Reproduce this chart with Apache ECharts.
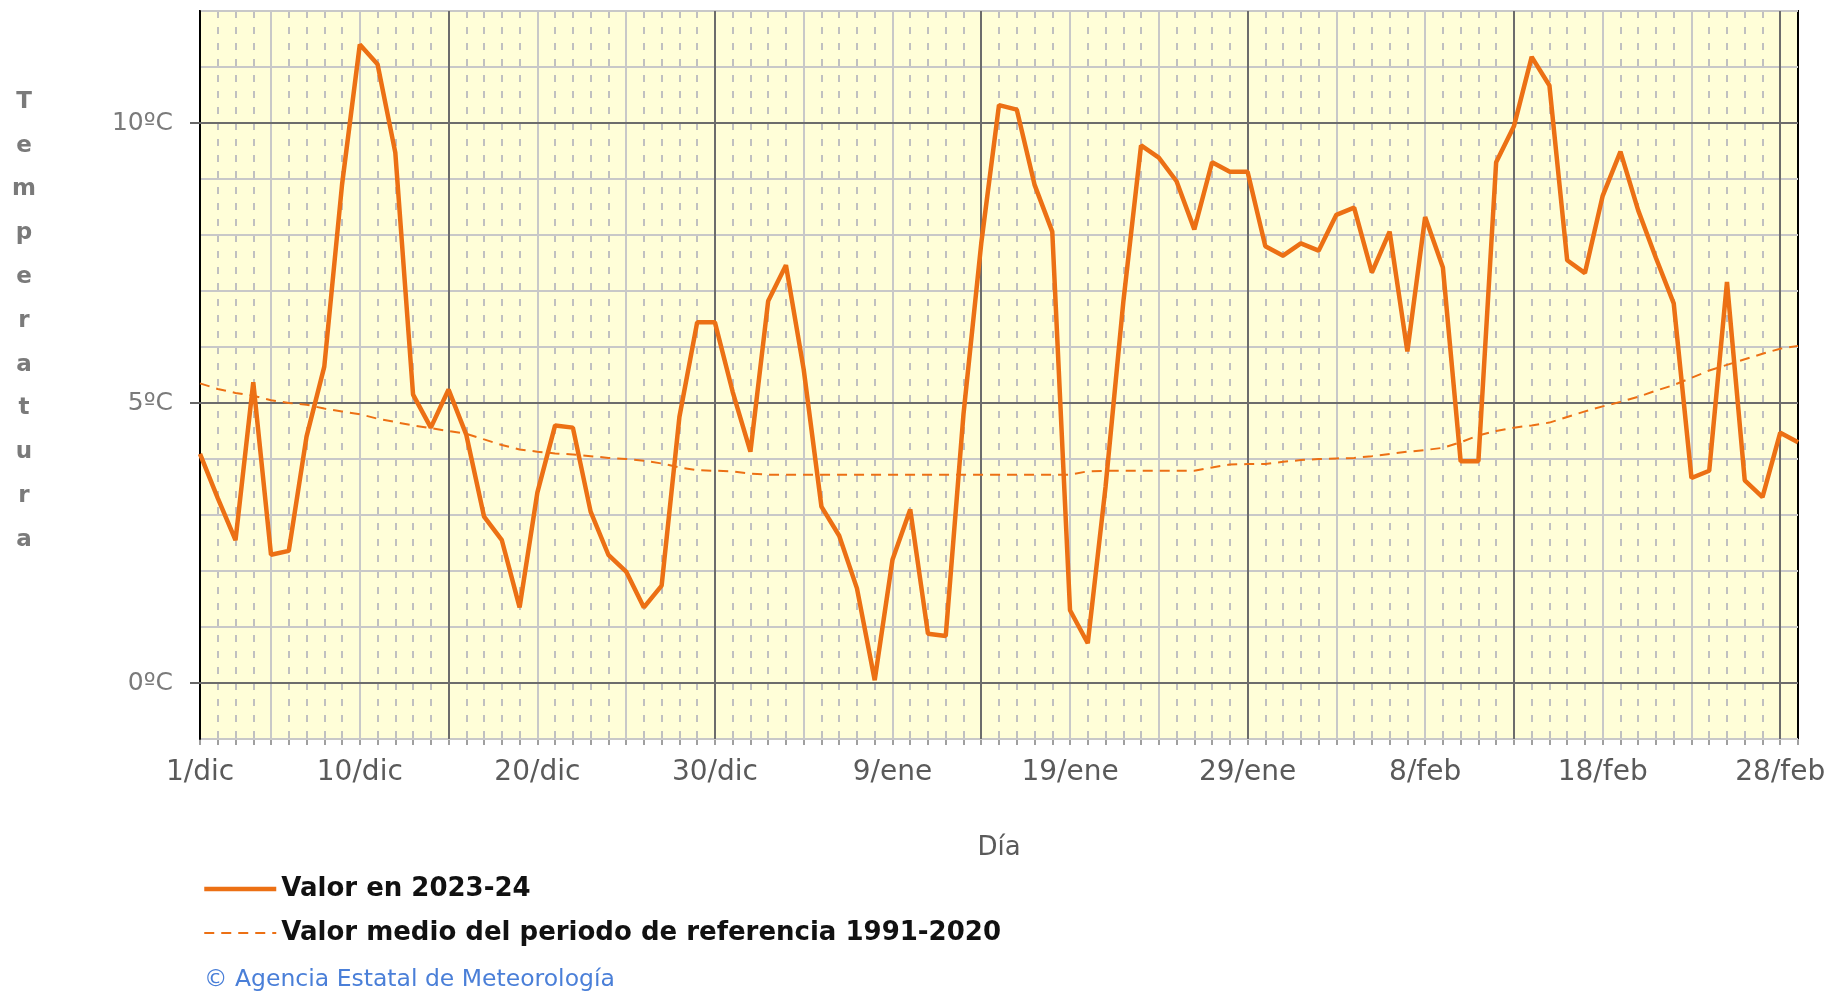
<!DOCTYPE html>
<html><head><meta charset="utf-8">
<script src="https://cdn.jsdelivr.net/npm/echarts@6/dist/echarts.min.js"></script>
<style>html,body{margin:0;padding:0;background:#fff}#c{width:1828px;height:996px}</style>
</head><body><div id="c"></div>
<script>
// ---- data ----
const months = ['dic', 'ene', 'feb'];
const monthDays = [31, 31, 29];
const seriesNames = ['Valor en 2023-24', 'Valor medio del periodo de referencia 1991-2020'];
const valor2023 = [
  4.09, 3.3, 2.55, 5.37, 2.29, 2.36, 4.4, 5.65, 8.9, 11.4,
  11.05, 9.47, 5.15, 4.56, 5.24, 4.43, 2.97, 2.55, 1.35, 3.4,
  4.6, 4.56, 3.06, 2.29, 1.99, 1.35, 1.74, 4.75, 6.44, 6.44,
  5.2, 4.13, 6.82, 7.46, 5.6, 3.15, 2.63, 1.69, 0.05, 2.2,
  3.1, 0.88, 0.84, 4.8, 7.85, 10.32, 10.24, 8.9, 8.06, 1.3,
  0.71, 3.5, 6.8, 9.6, 9.38, 8.96, 8.1, 9.3, 9.13, 9.13,
  7.8, 7.63, 7.85, 7.72, 8.36, 8.49, 7.33, 8.06, 5.92, 8.32,
  7.42, 3.96, 3.96, 9.3, 9.94, 11.18, 10.67, 7.55, 7.32, 8.7,
  9.49, 8.44, 7.59, 6.78, 3.66, 3.79, 7.16, 3.62, 3.32, 4.47,
  4.3
];
const valorMedio = [
  5.35, 5.25, 5.18, 5.13, 5.05, 5.0, 4.97, 4.9, 4.85, 4.8,
  4.72, 4.66, 4.6, 4.55, 4.5, 4.45, 4.35, 4.25, 4.17, 4.13,
  4.1, 4.08, 4.05, 4.02, 4.0, 3.97, 3.92, 3.85, 3.8, 3.79,
  3.78, 3.74, 3.72, 3.72, 3.72, 3.72, 3.72, 3.72, 3.72, 3.72,
  3.72, 3.72, 3.72, 3.72, 3.72, 3.72, 3.72, 3.72, 3.72, 3.72,
  3.78, 3.79, 3.79, 3.79, 3.79, 3.79, 3.79, 3.85, 3.9, 3.91,
  3.91, 3.95, 3.98, 4.0, 4.01, 4.02, 4.05, 4.09, 4.13, 4.16,
  4.2, 4.3, 4.42, 4.5, 4.56, 4.6, 4.65, 4.75, 4.85, 4.94,
  5.02, 5.11, 5.22, 5.32, 5.45, 5.58, 5.68, 5.78, 5.88, 5.97,
  6.02
];
const yTickValues = [0, 5, 10];
const yTitle = 'Temperatura';
const xTitle = 'Día';
const credit = '© Agencia Estatal de Meteorología';

// ---- build ----
const categories = [];
months.forEach((m, i) => { for (let d = 1; d <= monthDays[i]; d++) categories.push(d + '/' + m); });
const lastIdx = categories.length - 1;

const ORANGE = '#EC7014';
const gridLight = '#c8c8c8';
const gridDark = '#6c6c6c';
const FONT = 'DejaVu Sans';

const chart = echarts.init(document.getElementById('c'), null, {renderer: 'canvas'});
const hiddenCat = (extra) => Object.assign({
  type: 'category', data: categories, boundaryGap: false,
  axisLine: {show: false}, axisTick: {show: false}, axisLabel: {show: false}
}, extra);

chart.setOption({
  animation: false,
  backgroundColor: '#ffffff',
  grid: {left: 200, top: 11, width: 1598, height: 728, show: true, outerBoundsMode: 'none',
         containLabel: false,
         backgroundColor: '#FFFED8', borderColor: '#000', borderWidth: 2},
  xAxis: [
    {
      type: 'category', data: categories, boundaryGap: false, position: 'bottom',
      axisLine: {show: true, onZero: false, lineStyle: {color: '#000', width: 2}},
      axisTick: {show: true, interval: 0, length: 6, lineStyle: {color: '#a0a0a0', width: 2}},
      axisLabel: {interval: (i) => i === 0 || i % 10 === 9, margin: 20,
                  fontFamily: FONT, fontSize: 28, color: '#5a5a5a'},
      splitLine: {show: true, interval: (i) => i > 0 && i < lastIdx,
                  lineStyle: {color: '#c0c0c0', width: 2, type: [7, 9]}},
      name: xTitle, nameLocation: 'middle', nameGap: 96,
      nameTextStyle: {fontFamily: FONT, fontSize: 26, color: '#5a5a5a'},
      z: 1
    },
    hiddenCat({position: 'bottom', splitLine: {show: true, interval: (i) => i % 5 === 4 && i < lastIdx,
               lineStyle: {color: gridLight, width: 2}}, z: 2}),
    hiddenCat({position: 'bottom', splitLine: {show: true, interval: (i) => i % 15 === 14 && i < lastIdx,
               lineStyle: {color: gridDark, width: 2}}, z: 3})
  ],
  yAxis: [
    {
      type: 'value', min: -1, max: 12, interval: 1, position: 'left',
      axisLine: {show: true, lineStyle: {color: '#000', width: 2}},
      axisTick: {show: false}, axisLabel: {show: false},
      splitLine: {show: true, lineStyle: {color: gridLight, width: 2}}, z: 2
    },
    {
      type: 'value', min: -1, max: 12, interval: 1, position: 'left', offset: 0,
      axisLine: {show: false},
      axisTick: {show: true, customValues: yTickValues, length: 10, lineStyle: {color: '#666', width: 2}},
      axisLabel: {customValues: yTickValues, formatter: (v) => v + 'ºC', margin: 27,
                  fontFamily: FONT, fontSize: 25, color: '#7a7a7a'},
      splitLine: {show: true, lineStyle: {color: gridDark, width: 2}}, z: 3
    }
  ],
  legend: {
    orient: 'vertical', left: 197, top: 871, itemWidth: 72, itemHeight: 14, itemGap: 18,
    itemStyle: {opacity: 0},
    data: [
      {name: seriesNames[0], lineStyle: {width: 4.5}},
      {name: seriesNames[1], lineStyle: {width: 2}}
    ],
    textStyle: {fontFamily: FONT, fontWeight: 'bold', fontSize: 26, color: '#111'}
  },
  graphic: [
    {type: 'text', x: 24, y: 80, silent: true,
     style: {text: yTitle.split('').join('\n'), font: 'bold 23px "DejaVu Sans"', fill: '#7a7a7a',
             lineHeight: 43.8, align: 'center', verticalAlign: 'top'}},
    {type: 'text', x: 204, y: 968, silent: true,
     style: {text: credit, font: '23.5px "DejaVu Sans"', fill: '#4a7fd8', verticalAlign: 'top'}}
  ],
  series: [
    {name: seriesNames[1], type: 'line', data: valorMedio, xAxisIndex: 0, yAxisIndex: 0,
     symbol: 'none', lineStyle: {color: ORANGE, width: 2, type: [10, 7]}, itemStyle: {color: ORANGE}, z: 9},
    {name: seriesNames[0], type: 'line', data: valor2023, xAxisIndex: 0, yAxisIndex: 0,
     symbol: 'none', lineStyle: {color: ORANGE, width: 4.5}, itemStyle: {color: ORANGE}, z: 10}
  ]
});
</script></body></html>
